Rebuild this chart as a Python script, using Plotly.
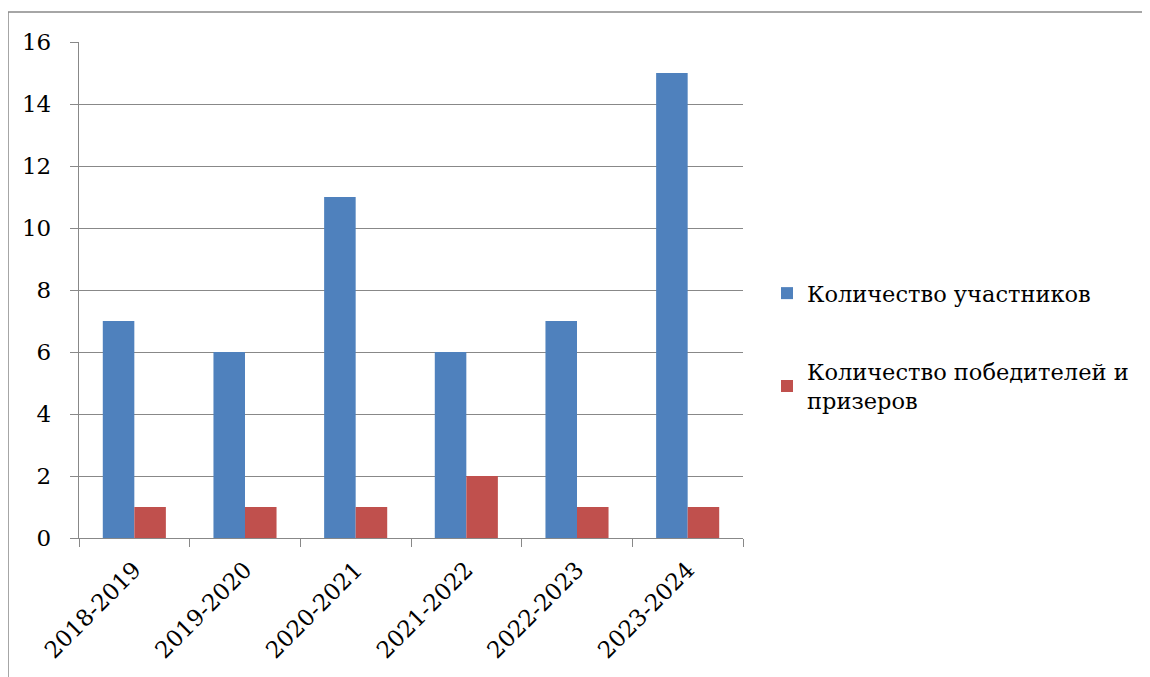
import plotly.graph_objects as go

categories = ["2018-2019", "2019-2020", "2020-2021", "2021-2022", "2022-2023", "2023-2024"]
participants = [7, 6, 11, 6, 7, 15]
winners = [1, 1, 1, 2, 1, 1]
series_names = ["Количество участников", "Количество победителей и<br>призеров"]
y_ticks = [0, 2, 4, 6, 8, 10, 12, 14, 16]

FONT = "DejaVu Serif"
GRAY = "#888888"
OFF = 8  # page body margin

fig = go.Figure()
fig.add_trace(go.Bar(x=categories, y=participants, name=series_names[0],
                     marker=dict(color="#4F81BD", line=dict(width=0)), legendgroup="a"))
fig.add_trace(go.Bar(x=categories, y=winners, name=series_names[1],
                     marker=dict(color="#C0504D", line=dict(width=0)), legendgroup="b"))

W, H = 1150 - OFF, 677 - OFF
L, R, T, B = 79 - OFF, 743 - OFF, 42 - OFF, 538 - OFF
pw, ph = R - L, B - T

fig.update_layout(
    width=W, height=H,
    margin=dict(l=L, r=W - R, t=T, b=H - B, pad=0),
    paper_bgcolor="white", plot_bgcolor="white",
    barmode="group", bargap=0.43, bargroupgap=0,
    font=dict(family=FONT, size=23, color="black"),
    showlegend=True,
    legend=dict(x=(807 - OFF - 40 - L) / pw, y=(B - (272 - OFF)) / ph,
                xanchor="left", yanchor="top",
                font=dict(family=FONT, size=22.5, color="black"),
                traceorder="grouped", tracegroupgap=46, itemwidth=30,
                bgcolor="rgba(0,0,0,0)"),
    xaxis=dict(type="category", showline=True, linecolor=GRAY, linewidth=1.3,
               ticks="outside", ticklen=8, tickcolor=GRAY, tickwidth=1.3,
               tickson="boundaries", ticklabelstandoff=8,
               tickangle=-45, showgrid=False, tickfont=dict(family=FONT, size=23)),
    yaxis=dict(range=[0, 16], tickvals=y_ticks, showline=True, linecolor=GRAY, linewidth=1.3,
               ticks="outside", ticklen=8, tickcolor=GRAY, tickwidth=1.3,
               ticklabelstandoff=14, showgrid=True,
               gridcolor=GRAY, gridwidth=1.3, zeroline=False,
               tickfont=dict(family=FONT, size=23)),
)

# chart-area border (top and left edges visible)
bx = (8 - OFF - L) / pw
by_top = (B - (12 - OFF)) / ph
fig.add_shape(type="line", xref="paper", yref="paper", x0=bx, x1=(W + 20 - L) / pw,
              y0=by_top, y1=by_top, line=dict(color=GRAY, width=1.5))
fig.add_shape(type="line", xref="paper", yref="paper", x0=bx, x1=bx,
              y0=by_top, y1=(B - H - 20) / ph, line=dict(color=GRAY, width=1.5))

fig.write_html("out.html")
